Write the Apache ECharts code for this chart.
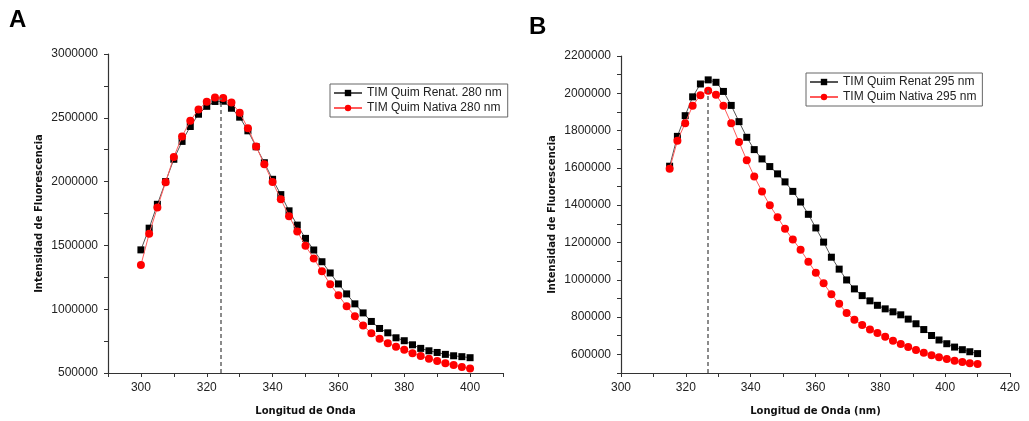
<!DOCTYPE html>
<html><head><meta charset="utf-8">
<script src="https://cdn.jsdelivr.net/npm/echarts@6/dist/echarts.min.js"></script>
<style>html,body{margin:0;padding:0;background:#fff}#c{width:1029px;height:421px}</style>
</head><body><div id="c"></div>
<script>
// Panel A (excitation 280 nm)
const waveA = [300,302.5,305,307.5,310,312.5,315,317.5,320,322.5,325,327.5,330,332.5,335,337.5,340,342.5,345,347.5,350,352.5,355,357.5,360,362.5,365,367.5,370,372.5,375,377.5,380,382.5,385,387.5,390,392.5,395,397.5,400];
const renatA = [1465000,1635000,1822000,2000000,2175000,2315000,2432000,2528000,2590000,2628000,2630000,2575000,2505000,2398000,2273000,2148000,2018000,1898000,1771000,1659000,1555000,1464000,1372000,1284000,1198000,1120000,1042000,971000,904000,849000,815000,776000,753000,721000,693000,674000,661000,646000,635000,628000,620000];
const nativaA = [1346000,1591000,1797000,1995000,2193000,2354000,2477000,2565000,2625000,2659000,2656000,2620000,2539000,2419000,2276000,2135000,1997000,1862000,1729000,1609000,1497000,1398000,1297000,1195000,1109000,1023000,945000,872000,812000,768000,734000,706000,682000,654000,633000,612000,594000,576000,562000,547000,536000];
const peakA = [324.3, 2655000];

// Panel B (excitation 295 nm)
const waveB = [315,317.4,319.8,322.1,324.5,326.9,329.3,331.6,334,336.4,338.8,341.1,343.5,345.9,348.3,350.6,353,355.4,357.8,360.1,362.5,364.9,367.3,369.6,372,374.4,376.8,379.1,381.5,383.9,386.3,388.6,391,393.4,395.8,398.1,400.5,402.9,405.3,407.6,410];
const renatB = [1609000,1769000,1880000,1981000,2050000,2072000,2059000,2010000,1935000,1848000,1764000,1698000,1648000,1607000,1568000,1525000,1474000,1417000,1351000,1278000,1202000,1121000,1057000,999000,951000,915000,887000,863000,844000,828000,812000,789000,764000,733000,701000,677000,657000,639000,625000,614000,604000];
const nativaB = [1595000,1746000,1840000,1933000,1990000,2013000,1992000,1933000,1839000,1739000,1641000,1554000,1474000,1399000,1335000,1273000,1216000,1161000,1097000,1038000,981000,922000,871000,822000,785000,757000,733000,714000,694000,673000,655000,639000,623000,609000,595000,584000,575000,566000,559000,552000,548000];
const peakB = [326.7, 2015000];

// tick labels
const xLabelsA = [300,320,340,360,380,400];
const xTicksA = [290,300,310,320,330,340,350,360,370,380,390,400,410];
const yLabelsB = [600000,800000,1000000,1200000,1400000,1600000,1800000,2000000,2200000];

const namesA = ['TIM Quim Renat. 280 nm','TIM Quim Nativa 280 nm'];
const namesB = ['TIM Quim Renat 295 nm','TIM Quim Nativa 295 nm'];

const pair = (xs, ys) => xs.map((x,i)=>[x, ys[i]]);
const plain = v => String(v);
const tickFont = {fontFamily:'Liberation Sans, Arial, sans-serif', fontSize:12, color:'#222', formatter:plain};
const titleFont = {fontFamily:'DejaVu Sans, Verdana, sans-serif', fontSize:10, fontWeight:'bold', color:'#111'};
const axisLine = {show:true, lineStyle:{color:'#333', width:1.2}};

function blackSeries(name, xi, data){
  return {name, type:'line', xAxisIndex:xi, yAxisIndex:xi, data, symbol:'rect', symbolSize:7,
    itemStyle:{color:'#000'}, lineStyle:{color:'#555', width:1}, z:3, animation:false};
}
function redSeries(name, xi, data, peak, ymin){
  return {name, type:'line', xAxisIndex:xi, yAxisIndex:xi, data, symbol:'circle', symbolSize:8,
    itemStyle:{color:'#ff0000'}, lineStyle:{color:'#ff5a5a', width:1}, z:4, animation:false,
    markLine:{silent:true, symbol:'none', label:{show:false}, lineStyle:{type:[4,3], color:'#666', width:1.5},
      data:[[{coord:[peak[0], ymin]},{coord:[peak[0], peak[1]]}]]}};
}

const chart = echarts.init(document.getElementById('c'), null, {renderer:'canvas'});
chart.setOption({
  animation:false,
  backgroundColor:'#fff',
  graphic:[
    {type:'text', left:9, top:8, style:{text:'A', font:'bold 24px Liberation Sans, Arial, sans-serif', fill:'#000'}},
    {type:'text', left:529, top:15, style:{text:'B', font:'bold 24px Liberation Sans, Arial, sans-serif', fill:'#000'}}
  ],
  legend:[
    {data:namesA, orient:'vertical', left:330, top:84, itemWidth:28, itemHeight:8, itemGap:3,
      padding:[3,6,3,3], borderColor:'#666', borderWidth:1, backgroundColor:'#fff',
      textStyle:{fontFamily:'Liberation Sans, Arial, sans-serif', fontSize:12, color:'#222'}},
    {data:namesB, orient:'vertical', left:806, top:73, itemWidth:28, itemHeight:8, itemGap:3,
      padding:[3,6,3,3], borderColor:'#666', borderWidth:1, backgroundColor:'#fff',
      textStyle:{fontFamily:'Liberation Sans, Arial, sans-serif', fontSize:12, color:'#222'}}
  ],
  grid:[
    {left:108, right:526, top:54, bottom:47},
    {left:621, right:19, top:56, bottom:47}
  ],
  xAxis:[
    {type:'value', gridIndex:0, min:290, max:410, interval:10,
      name:'Longitud de Onda', nameLocation:'middle', nameGap:33, nameTextStyle:titleFont,
      axisLine, splitLine:{show:false},
      axisTick:{show:true, inside:false, length:4, customValues:xTicksA, lineStyle:{color:'#333'}},
      axisLabel:{...tickFont, margin:9, customValues:xLabelsA}},
    {type:'value', gridIndex:1, min:300, max:420, interval:20,
      name:'Longitud de Onda (nm)', nameLocation:'middle', nameGap:33, nameTextStyle:titleFont,
      axisLine, splitLine:{show:false},
      axisTick:{show:true, length:4, lineStyle:{color:'#333'}},
      minorTick:{show:true, splitNumber:2, length:4, lineStyle:{color:'#333'}},
      axisLabel:{...tickFont, margin:9}}
  ],
  yAxis:[
    {type:'value', gridIndex:0, min:500000, max:3000000, interval:500000,
      name:'Intensidad de Fluorescencia', nameLocation:'middle', nameGap:64, nameTextStyle:titleFont,
      axisLine, splitLine:{show:false},
      axisTick:{show:true, length:4, lineStyle:{color:'#333'}},
      minorTick:{show:true, splitNumber:2, length:4, lineStyle:{color:'#333'}},
      axisLabel:{...tickFont, margin:10}},
    {type:'value', gridIndex:1, min:500000, max:2200000, interval:100000,
      name:'Intensidad de Fluorescencia', nameLocation:'middle', nameGap:64, nameTextStyle:titleFont,
      axisLine, splitLine:{show:false},
      axisTick:{show:true, length:4, lineStyle:{color:'#333'}},
      axisLabel:{...tickFont, margin:10, customValues:yLabelsB}}
  ],
  series:[
    blackSeries(namesA[0], 0, pair(waveA, renatA)),
    redSeries(namesA[1], 0, pair(waveA, nativaA), peakA, 500000),
    blackSeries(namesB[0], 1, pair(waveB, renatB)),
    redSeries(namesB[1], 1, pair(waveB, nativaB), peakB, 500000)
  ]
});
</script></body></html>
